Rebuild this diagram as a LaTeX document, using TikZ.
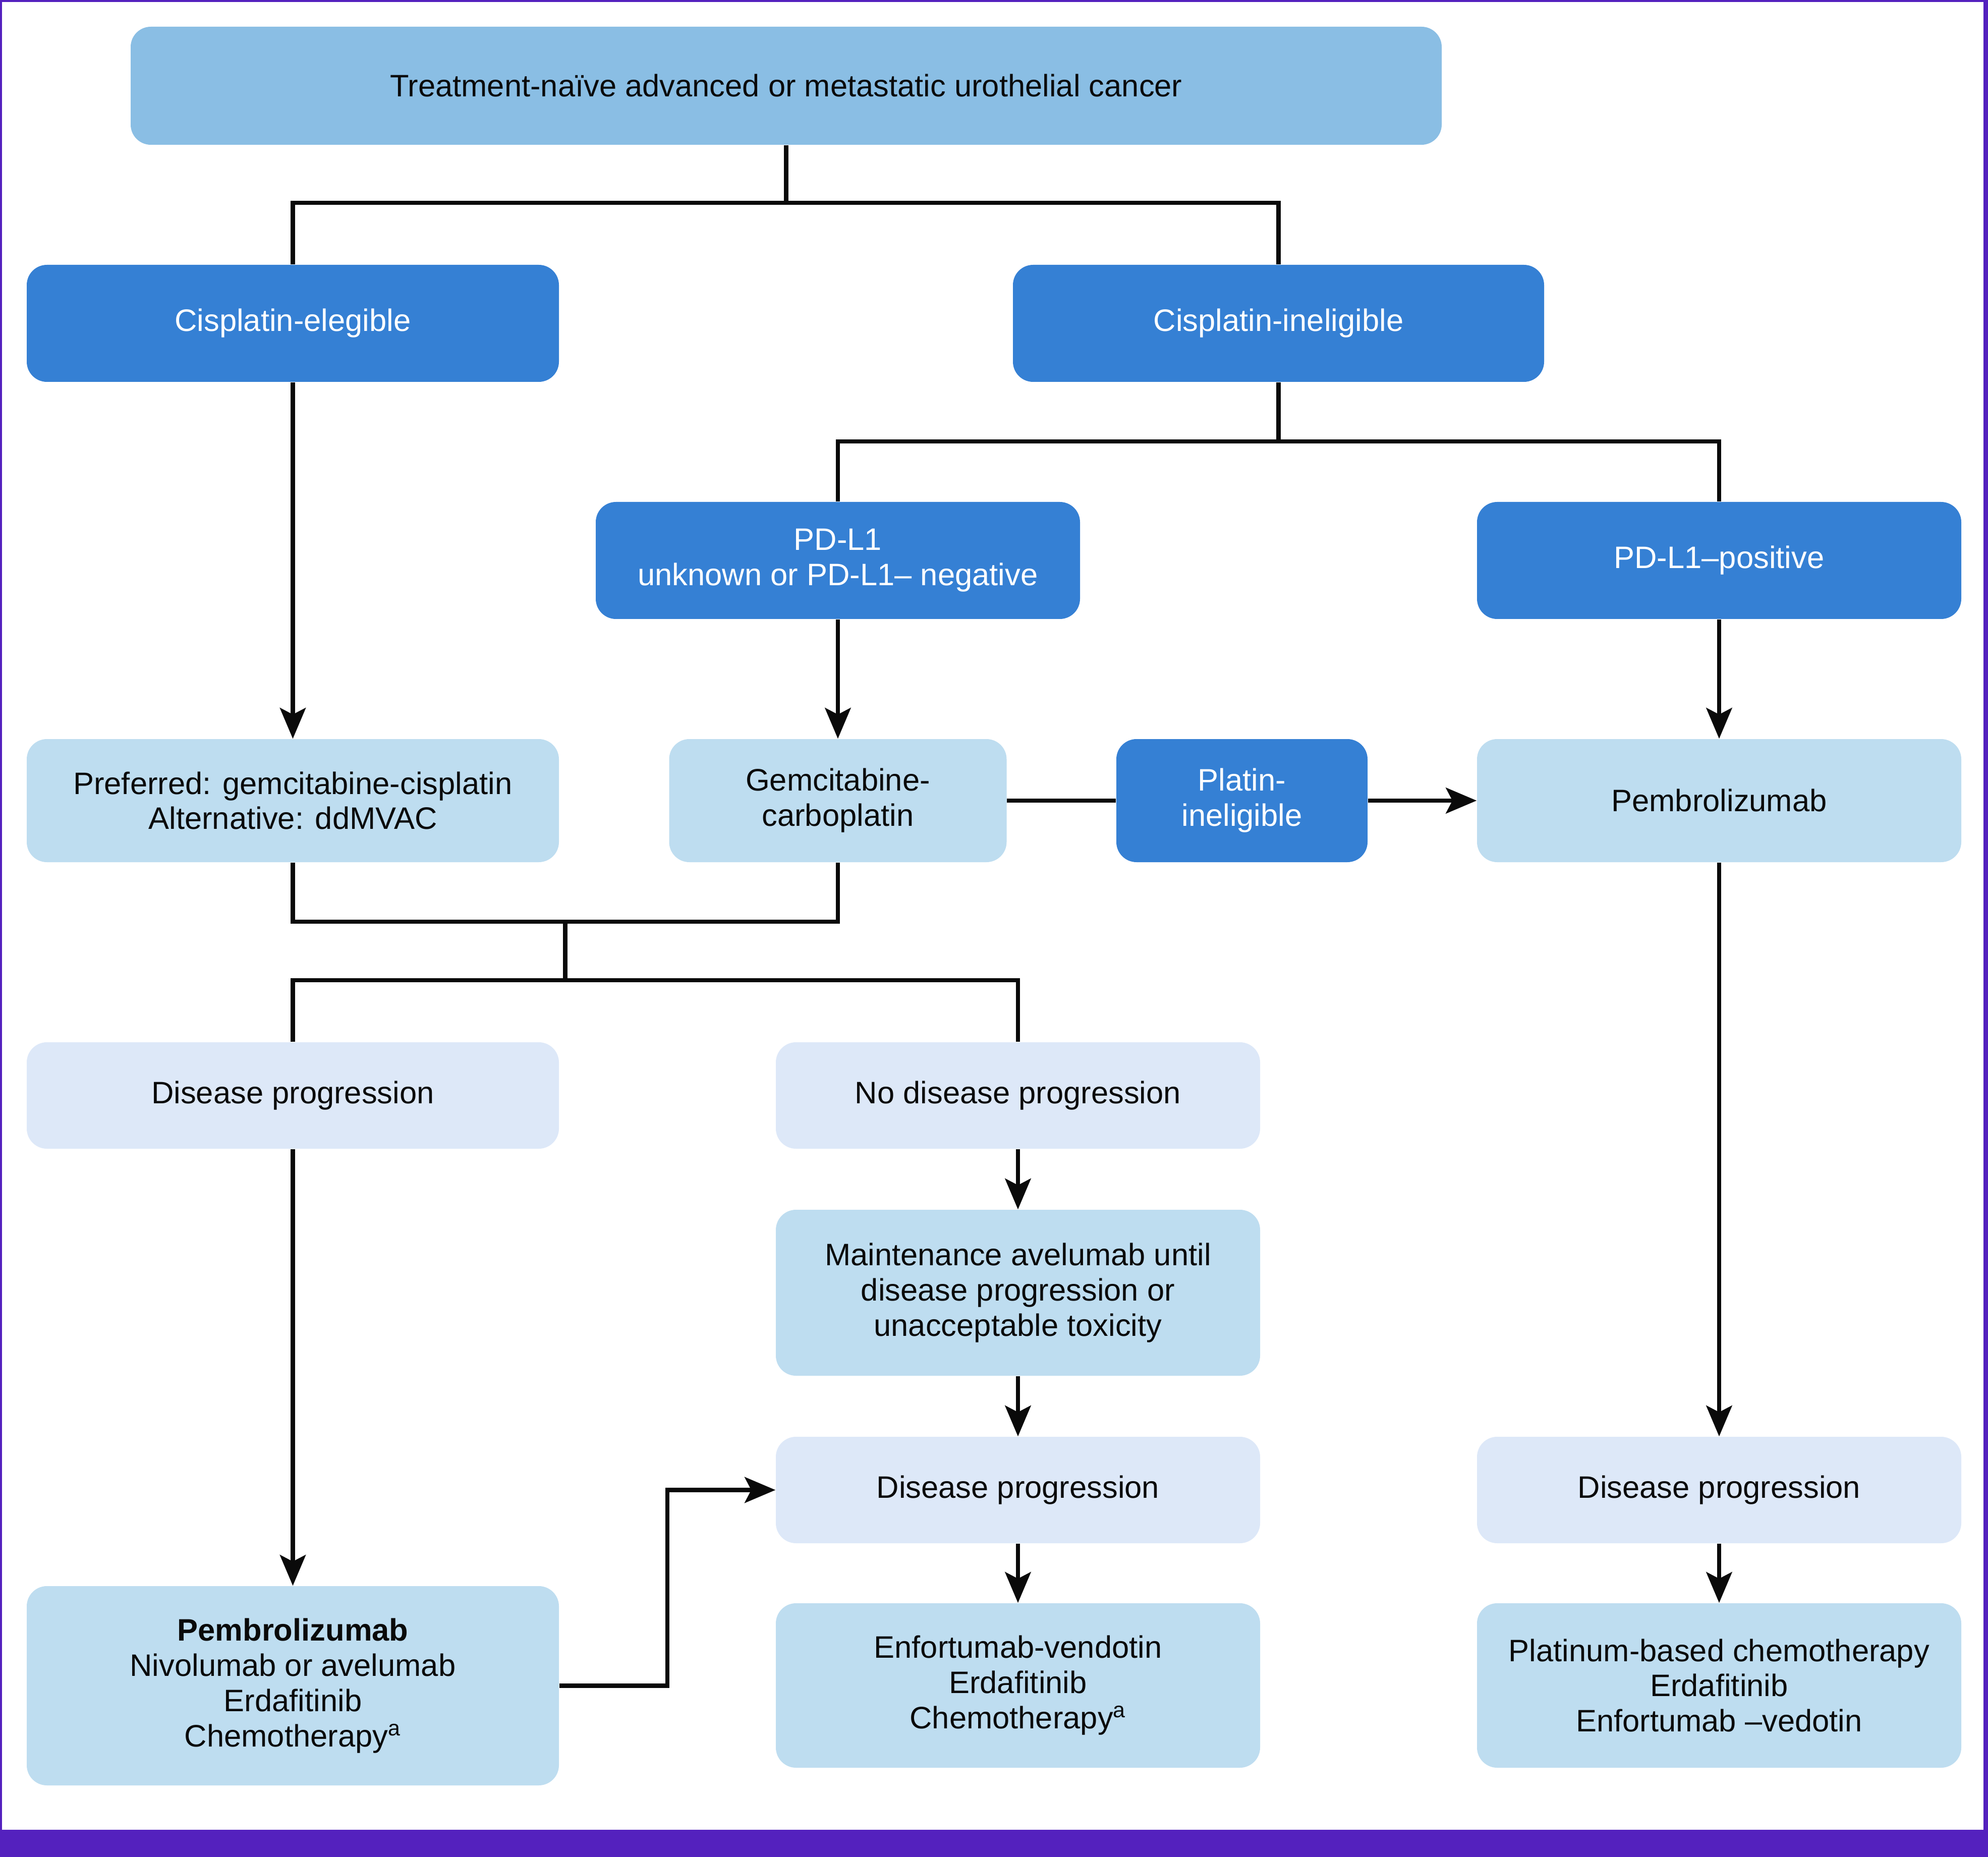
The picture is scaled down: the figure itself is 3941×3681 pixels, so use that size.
\documentclass[tikz,border=0pt]{standalone}
\usepackage{fontspec}
\setmainfont{Liberation Sans}
\usetikzlibrary{arrows.meta}
\definecolor{topc}{HTML}{8ABEE4}
\definecolor{darkc}{HTML}{3580D4}
\definecolor{lightc}{HTML}{BEDDF0}
\definecolor{palec}{HTML}{DDE8F8}
\definecolor{framec}{HTML}{5421BE}
\definecolor{inkc}{HTML}{0A0A0A}
\begin{document}
\begin{tikzpicture}[x=0.1mm,y=-0.1mm,
  bx/.style={rounded corners=4mm, inner sep=0pt, align=center,
    font=\fontsize{17.5}{19.9}\selectfont, text=inkc},
  tp/.style={bx, fill=topc},
  dk/.style={bx, fill=darkc, text=white},
  lt/.style={bx, fill=lightc},
  pl/.style={bx, fill=palec},
  ln/.style={draw=inkc, line width=0.85mm, line join=miter},
  arr/.style={ln, -{Stealth[length=6.1mm,width=5.1mm,inset=1.3mm]}}
]
\path[use as bounding box] (0,0) rectangle (3941,3681);
\fill[framec] (0,0) rectangle (3941,3681);
\fill[white] (4,4) rectangle (3932,3627);

% nodes
\node[tp, minimum width=259.9mm, minimum height=23.4mm] (top) at (1558.5,170) {Treatment-naïve advanced or metastatic urothelial cancer};
\node[dk, minimum width=105.5mm, minimum height=23.2mm] (cise) at (580.5,641) {Cisplatin-elegible};
\node[dk, minimum width=105.3mm, minimum height=23.2mm] (cisi) at (2534.5,641) {Cisplatin-ineligible};
\node[dk, minimum width=96mm, minimum height=23.2mm] (pdn) at (1661,1111) {PD-L1\\unknown or PD-L1– negative};
\node[dk, minimum width=96mm, minimum height=23.2mm] (pdp) at (3408,1111) {PD-L1–positive};
\node[lt, minimum width=105.5mm, minimum height=24.4mm] (pref) at (580.5,1587) {Preferred: gemcitabine-cisplatin\\Alternative: ddMVAC};
\node[lt, minimum width=66.9mm, minimum height=24.4mm] (gem) at (1661,1587) {Gemcitabine-\\carboplatin};
\node[dk, minimum width=49.8mm, minimum height=24.4mm] (plat) at (2462,1587) {Platin-\\ineligible};
\node[lt, minimum width=96mm, minimum height=24.4mm] (pemr) at (3408,1587) {Pembrolizumab};
\node[pl, minimum width=105.5mm, minimum height=21.1mm] (dpl) at (580.5,2171.5) {Disease progression};
\node[pl, minimum width=96mm, minimum height=21.1mm] (ndp) at (2018,2171.5) {No disease progression};
\node[lt, minimum width=96mm, minimum height=32.9mm] (maint) at (2018,2562.5) {Maintenance avelumab until\\disease progression or\\unacceptable toxicity};
\node[pl, minimum width=96mm, minimum height=21.1mm] (dpm) at (2018,2953.5) {Disease progression};
\node[pl, minimum width=96mm, minimum height=21.1mm] (dpr) at (3408,2953.5) {Disease progression};
\node[lt, minimum width=105.5mm, minimum height=39.5mm] (pemb) at (580.5,3341.5) {\textbf{Pembrolizumab}\\Nivolumab or avelumab\\Erdafitinib\\Chemotherapy\textsuperscript{a}};
\node[lt, minimum width=96mm, minimum height=32.6mm] (enf) at (2018,3341) {Enfortumab-vendotin\\Erdafitinib\\Chemotherapy\textsuperscript{a}};
\node[lt, minimum width=96mm, minimum height=32.6mm] (platb) at (3408,3341) {Platinum-based chemotherapy\\Erdafitinib\\Enfortumab –vedotin};

% junctions
\coordinate (j1) at (1558.5,402);
\coordinate (j2) at (2534.5,875);
\coordinate (j3) at (1120.5,1827);
\coordinate (j4) at (1120.5,1943);
\coordinate (j5) at (1323,3341.5);

% connectors
\draw[ln] (top.south) -- (j1);
\draw[ln] (cise.north) |- (j1) -| (cisi.north);
\draw[arr] (cise.south) -- (pref.north);
\draw[ln] (cisi.south) -- (j2);
\draw[ln] (pdn.north) |- (j2) -| (pdp.north);
\draw[arr] (pdn.south) -- (gem.north);
\draw[arr] (pdp.south) -- (pemr.north);
\draw[ln] (gem.east) -- (plat.west);
\draw[arr] (plat.east) -- (pemr.west);
\draw[ln] (pref.south) |- (j3) -| (gem.south);
\draw[ln] (j3) -- (j4);
\draw[ln] (dpl.north) |- (j4) -| (ndp.north);
\draw[arr] (dpl.south) -- (pemb.north);
\draw[arr] (ndp.south) -- (maint.north);
\draw[arr] (maint.south) -- (dpm.north);
\draw[arr] (dpm.south) -- (enf.north);
\draw[arr] (pemr.south) -- (dpr.north);
\draw[arr] (dpr.south) -- (platb.north);
\draw[arr] (pemb.east) -- (j5) |- (dpm.west);
\end{tikzpicture}
\end{document}
